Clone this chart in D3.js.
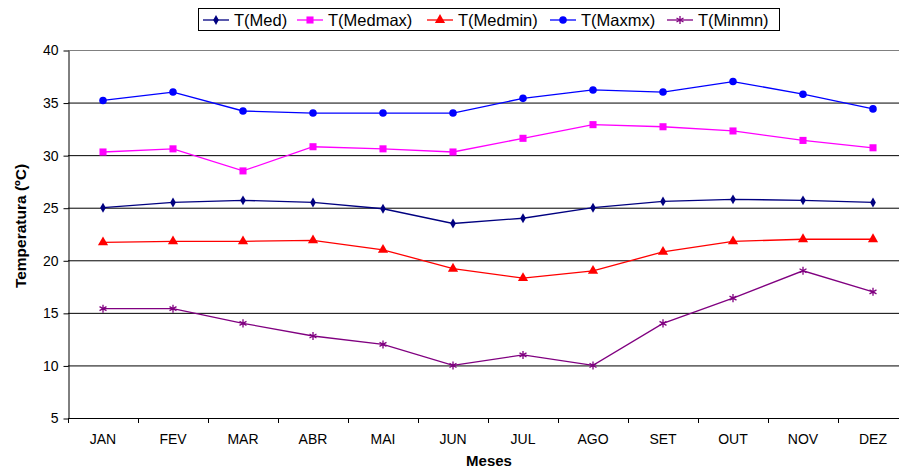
<html>
<head>
<script src="https://d3js.org/d3.v7.min.js"></script>
<style>
    body { margin: 0; background: white; font-family: 'Liberation Sans', Arial, sans-serif; }
    svg { display: block; }
</style>
</head>
<body>
<div id="chart"></div>
<script>

var months = ["JAN","FEV","MAR","ABR","MAI","JUN","JUL","AGO","SET","OUT","NOV","DEZ"];
var yTicks = [5, 10, 15, 20, 25, 30, 35, 40];

var tMed    = [25.0, 25.5, 25.7, 25.5, 24.9, 23.5, 24.0, 25.0, 25.6, 25.8, 25.7, 25.5];
var tMedmax = [30.3, 30.6, 28.5, 30.8, 30.6, 30.3, 31.6, 32.9, 32.7, 32.3, 31.4, 30.7];
var tMedmin = [21.7, 21.8, 21.8, 21.9, 21.0, 19.2, 18.3, 19.0, 20.8, 21.8, 22.0, 22.0];
var tMaxmx  = [35.2, 36.0, 34.2, 34.0, 34.0, 34.0, 35.4, 36.2, 36.0, 37.0, 35.8, 34.4];
var tMinmn  = [15.4, 15.4, 14.0, 12.8, 12.0, 10.0, 11.0, 10.0, 14.0, 16.4, 19.0, 17.0];

var seriesNames = ["T(Med)", "T(Medmax)", "T(Medmin)", "T(Maxmx)", "T(Minmn)"];
var seriesData  = [tMed, tMedmax, tMedmin, tMaxmx, tMinmn];
var colors  = ["#000080", "#ff00ff", "#ff0000", "#0000ff", "#800080"];
var symbols = [d3.symbolDiamond, d3.symbolSquare, d3.symbolTriangle, d3.symbolCircle, d3.symbolAsterisk];
var symSize = [28, 50, 45, 45, 45];

var svg = d3.select("#chart")
    .append("svg")
    .attr("width", 899)
    .attr("height", 468);

var x = d3.scaleBand()
    .domain(months)
    .range([68, 908]);

var y = d3.scaleLinear()
    .domain([5, 40])
    .range([418, 50]);

//gridlines
svg.selectAll(".grid")
    .data(yTicks.filter(function(d){ return d > 5; }))
    .enter().append("line")
    .attr("x1", 68)
    .attr("x2", 908)
    .attr("y1", function(d){ return y(d) + 0.5; })
    .attr("y2", function(d){ return y(d) + 0.5; })
    .style("stroke", function(d){ return d == 40 ? "#808080" : "#000"; })
    .style("stroke-width", "1px");

//y axis
var leftAxis = d3.axisLeft(y).tickValues(yTicks).tickSize(5).tickSizeOuter(0);
var gy = svg.append("g")
    .attr("transform", "translate(68.5,0.5)")
    .call(leftAxis);
gy.select(".domain").attr("stroke", "#000");
gy.selectAll("text")
    .attr("x", -10)
    .style("font-family", "'Liberation Sans', Arial, sans-serif")
    .style("font-size", "14px")
    .attr("fill", "#000");

//x axis
svg.append("line")
    .attr("x1", 68).attr("x2", 908)
    .attr("y1", 418.5).attr("y2", 418.5)
    .style("stroke", "#000");
svg.selectAll(".xtick")
    .data(months)
    .enter().append("line")
    .attr("x1", function(d){ return x(d) + 0.5; })
    .attr("x2", function(d){ return x(d) + 0.5; })
    .attr("y1", 418)
    .attr("y2", 423)
    .style("stroke", "#000");
svg.selectAll(".xlab")
    .data(months)
    .enter().append("text")
    .attr("x", function(d){ return x(d) + x.bandwidth() / 2; })
    .attr("y", 444)
    .attr("text-anchor", "middle")
    .style("font-size", "14px")
    .text(function(d){ return d; });

//axis titles
svg.append("text")
    .attr("x", 489)
    .attr("y", 466)
    .attr("text-anchor", "middle")
    .style("font-size", "15px")
    .style("font-weight", "bold")
    .text("Meses");

svg.append("text")
    .attr("transform", "translate(26,226) rotate(-90)")
    .attr("text-anchor", "middle")
    .style("font-size", "15.5px")
    .style("font-weight", "bold")
    .text("Temperatura (ºC)");

//series
var line = d3.line()
    .x(function(d, i){ return x(months[i]) + x.bandwidth() / 2; })
    .y(function(d){ return y(d); });

seriesData.forEach(function(vals, s) {
    svg.append("path")
        .datum(vals)
        .attr("d", line)
        .style("fill", "none")
        .style("stroke", colors[s])
        .style("stroke-width", "1.3px");

    svg.selectAll(".m" + s)
        .data(vals)
        .enter().append("path")
        .attr("transform", function(d, i){
            return "translate(" + (x(months[i]) + x.bandwidth() / 2) + "," + y(d) + ")";
        })
        .attr("d", d3.symbol().type(symbols[s]).size(symSize[s]))
        .style("fill", s == 4 ? "none" : colors[s])
        .style("stroke", s == 4 ? colors[s] : "none")
        .style("stroke-width", "1.3px");
});

//legend
var legend = svg.append("g");
legend.append("rect")
    .attr("x", 198.5)
    .attr("y", 8.5)
    .attr("width", 581)
    .attr("height", 22)
    .style("fill", "white")
    .style("stroke", "#000")
    .style("stroke-width", "1px");

var legendX = [203, 297, 427, 550, 667];
seriesNames.forEach(function(name, s) {
    var lx = legendX[s];
    legend.append("line")
        .attr("x1", lx).attr("x2", lx + 26)
        .attr("y1", 20).attr("y2", 20)
        .style("stroke", colors[s])
        .style("stroke-width", "1.3px");
    legend.append("path")
        .attr("transform", "translate(" + (lx + 13) + ",20)")
        .attr("d", d3.symbol().type(symbols[s]).size(symSize[s]))
        .style("fill", s == 4 ? "none" : colors[s])
        .style("stroke", s == 4 ? colors[s] : "none")
        .style("stroke-width", "1.3px");
    legend.append("text")
        .attr("x", lx + 31)
        .attr("y", 26)
        .style("font-size", "16.5px")
        .text(name);
});

</script>
</body>
</html>
